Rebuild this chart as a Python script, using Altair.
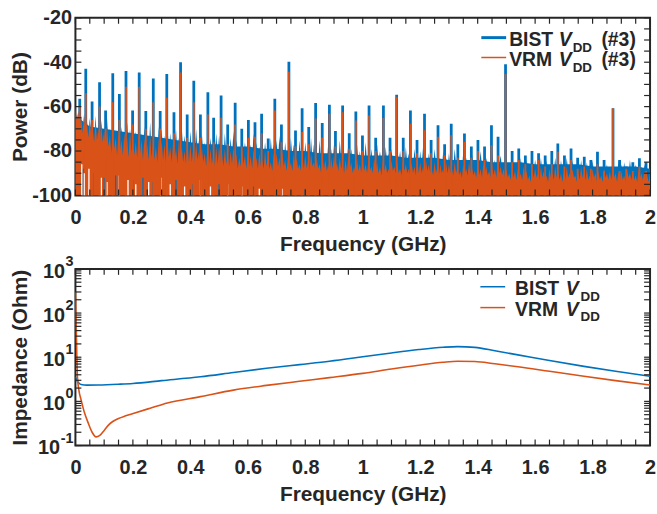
import altair as alt
import pandas as pd

FONT = "Liberation Sans"
INK = "#262626"
BLUE = "#0072BD"
ORANGE = "#D95319"
W, H = 579, 179
H2 = 178

# ---------------- data: spectrum (top panel) ----------------
noise_step = 0.005  # GHz between consecutive noise samples
bist_noise = [
    -60, -68, -62, -72, -64, -74, -63, -73, -66, -76, -65, -75, -67, -77, -64, -76, -68, -78, -66, -77,
    -69, -78, -65, -77, -70, -79, -67, -78, -71, -80, -66, -77, -69, -79, -72, -80, -67, -78, -70, -79,
    -68, -79, -71, -80, -66, -78, -72, -81, -69, -79, -73, -81, -67, -80, -71, -79, -74, -82, -69, -80,
    -70, -80, -73, -81, -68, -79, -72, -82, -75, -80, -70, -81, -74, -82, -69, -80, -73, -81, -76, -82,
    -71, -81, -74, -82, -70, -80, -75, -83, -72, -81, -76, -82, -71, -81, -74, -83, -77, -82, -72, -81,
    -73, -82, -76, -83, -72, -81, -77, -84, -74, -82, -71, -83, -75, -82, -78, -84, -73, -82, -76, -83,
    -74, -83, -77, -84, -72, -82, -76, -85, -78, -83, -73, -84, -76, -83, -79, -85, -74, -83, -77, -84,
    -75, -84, -73, -83, -78, -85, -76, -84, -79, -85, -74, -83, -77, -84, -80, -86, -75, -84, -78, -85,
    -76, -84, -79, -85, -74, -84, -77, -86, -80, -85, -75, -84, -78, -85, -81, -86, -76, -85, -79, -86,
    -77, -85, -80, -86, -75, -84, -78, -86, -81, -85, -76, -85, -79, -86, -82, -87, -77, -85, -80, -86,
    -78, -86, -76, -85, -81, -87, -79, -86, -82, -87, -77, -85, -80, -86, -83, -87, -78, -86, -81, -87,
    -79, -86, -82, -87, -77, -85, -80, -87, -83, -88, -78, -86, -81, -87, -84, -88, -79, -86, -82, -87,
    -80, -87, -78, -86, -83, -88, -81, -87, -84, -88, -79, -86, -82, -88, -85, -89, -80, -87, -83, -88,
    -81, -87, -84, -88, -79, -86, -82, -88, -85, -89, -80, -87, -83, -88, -86, -89, -81, -87, -84, -88,
    -82, -88, -80, -87, -84, -89, -83, -88, -86, -89, -81, -87, -84, -89, -78, -86, -82, -88, -85, -89,
    -83, -89, -86, -90, -82, -88, -85, -90, -87, -90, -83, -89, -86, -90, -84, -89, -87, -91, -83, -89,
    -84, -89, -87, -90, -83, -89, -86, -91, -84, -90, -88, -91, -85, -89, -83, -90, -87, -91, -84, -90,
    -85, -90, -83, -89, -87, -91, -84, -90, -86, -91, -88, -91, -84, -90, -87, -91, -85, -90, -86, -91,
    -84, -90, -87, -91, -85, -90, -88, -91, -84, -89, -86, -91, -87, -90, -85, -91, -88, -92, -84, -90,
    -86, -91, -85, -90, -87, -91, -84, -90, -88, -92, -86, -91, -85, -90, -87, -91, -86, -90, -88, -91,
    -87,
]
# top of the dense (solid looking) part of the BIST trace, every 0.05 GHz
band_step = 0.05
bist_band = [
    -64, -69, -70, -71, -72, -73, -74, -75, -76, -77,
    -77, -78, -78, -79, -79, -80, -80, -81, -81, -81,
    -82, -82, -82, -83, -83, -83, -84, -84, -84, -85,
    -85, -85, -86, -86, -86, -86, -87, -87, -87, -87,
    -88,
]
vrm_noise = [
    -60, -66, -62, -70, -65, -72, -64, -71, -67, -74, -66, -73, -69, -76, -67, -75, -70, -77, -68, -76,
    -71, -79, -69, -78, -73, -81, -70, -79, -74, -82, -71, -80, -75, -82, -72, -80, -74, -83, -71, -81,
    -73, -82, -76, -83, -72, -81, -75, -84, -74, -82, -77, -84, -73, -83, -76, -84, -78, -85, -74, -83,
    -75, -84, -77, -85, -74, -83, -78, -85, -76, -84, -79, -86, -75, -84, -78, -85, -80, -86, -76, -85,
    -77, -85, -79, -86, -76, -84, -80, -86, -78, -85, -81, -87, -77, -86, -79, -86, -82, -87, -78, -86,
    -78, -86, -81, -87, -79, -86, -82, -87, -80, -86, -78, -87, -81, -88, -83, -87, -79, -86, -82, -88,
    -80, -87, -82, -88, -79, -86, -83, -88, -81, -87, -84, -88, -80, -87, -82, -88, -85, -89, -81, -87,
    -81, -87, -83, -88, -80, -87, -84, -89, -82, -88, -85, -89, -81, -87, -83, -88, -86, -89, -82, -88,
    -82, -88, -84, -89, -81, -87, -85, -89, -83, -88, -86, -90, -82, -88, -84, -89, -86, -90, -83, -88,
    -82, -88, -85, -89, -83, -88, -86, -90, -84, -89, -82, -88, -85, -90, -87, -90, -83, -89, -86, -90,
    -83, -89, -86, -90, -84, -89, -87, -90, -83, -89, -85, -90, -87, -91, -84, -89, -86, -90, -88, -91,
    -84, -89, -87, -90, -85, -90, -88, -91, -84, -89, -86, -90, -88, -91, -85, -90, -87, -91, -84, -90,
    -85, -90, -87, -91, -84, -89, -86, -90, -88, -91, -85, -90, -87, -91, -86, -90, -88, -92, -85, -90,
    -86, -90, -88, -91, -85, -90, -87, -91, -89, -92, -86, -90, -88, -91, -85, -90, -87, -91, -89, -92,
    -86, -91, -88, -92, -85, -90, -87, -91, -89, -92, -86, -91, -88, -92, -84, -90, -87, -91, -88, -92,
    -88, -92, -90, -93, -87, -92, -89, -93, -88, -92, -90, -93, -87, -92, -89, -93, -91, -94, -88, -92,
    -88, -92, -90, -93, -87, -92, -89, -93, -91, -94, -88, -92, -90, -93, -87, -92, -89, -93, -90, -94,
    -89, -93, -87, -92, -90, -93, -88, -92, -91, -94, -89, -93, -87, -92, -90, -93, -88, -93, -91, -94,
    -88, -92, -90, -94, -89, -93, -91, -94, -88, -92, -90, -93, -89, -93, -87, -92, -90, -94, -89, -93,
    -89, -93, -91, -94, -88, -92, -90, -93, -89, -93, -91, -94, -88, -92, -90, -93, -89, -93, -91, -94,
    -90,
]
# deep dips of the traces near the bottom of the panel
gap_freq = [0.022, 0.031, 0.047, 0.090, 0.110, 0.152, 0.183, 0.210, 0.255, 0.297,
            0.330, 0.380, 0.435, 0.470, 0.530, 0.580, 0.640, 0.720]
gap_top = [-86, -90, -88, -92, -94, -91, -93, -95, -94, -92,
           -95, -96, -93, -96, -95, -96, -97, -97]
vrm_dip_freq = [0.027, 0.060, 0.100, 0.140, 0.200, 0.235, 0.270, 0.350, 0.410, 0.500,
                0.620, 0.800, 1.000]
vrm_dip_top = [-88, -90, -92, -91, -93, -92, -94, -93, -95, -95, -96, -97, -97]

spike_freq = [
    0.015, 0.036, 0.058, 0.084, 0.105, 0.130, 0.153, 0.176, 0.199, 0.222,
    0.245, 0.271, 0.295, 0.318, 0.343, 0.366, 0.389, 0.412, 0.435, 0.461,
    0.481, 0.507, 0.530, 0.556, 0.579, 0.602, 0.625, 0.648, 0.671, 0.694,
    0.717, 0.743, 0.766, 0.789, 0.812, 0.836, 0.859, 0.884, 0.905, 0.930,
    0.953, 0.976, 0.999, 1.022, 1.045, 1.072, 1.095, 1.118, 1.141, 1.166,
    1.189, 1.215, 1.238, 1.262, 1.285, 1.308, 1.331, 1.354, 1.378, 1.401,
    1.424, 1.448, 1.471, 1.497, 1.520, 1.543, 1.566, 1.589, 1.612, 1.635,
    1.658, 1.679, 1.702, 1.725, 1.748, 1.771, 1.794, 1.817, 1.840, 1.871,
    1.894, 1.917, 1.940, 1.963, 1.986,
]
spike_bist = [
    -56.5, -43.0, -57.7, -49.0, -61.7, -45.0, -54.3, -44.0, -61.7, -44.6,
    -62.0, -47.3, -62.0, -45.3, -62.5, -40.0, -63.5, -48.3, -63.5, -53.5,
    -65.0, -55.0, -68.0, -58.3, -70.0, -66.0, -67.0, -63.2, -74.4, -56.5,
    -68.1, -39.8, -70.7, -60.7, -69.2, -58.4, -67.4, -59.2, -71.0, -59.5,
    -72.0, -62.2, -73.0, -59.5, -74.0, -59.5, -74.0, -54.7, -74.0, -61.7,
    -75.0, -63.2, -75.0, -68.4, -77.0, -67.7, -77.0, -72.1, -78.0, -75.0,
    -78.0, -68.4, -73.6, -40.9, -80.0, -78.9, -82.0, -80.0, -81.0, -82.0,
    -80.0, -76.6, -82.0, -78.9, -83.0, -82.6, -84.0, -80.3, -84.0, -60.7,
    -84.0, -87.0, -85.0, -83.3, -85.0,
]
spike_vrm = [
    -60.0, -54.0, -66.0, -60.0, -70.0, -58.0, -66.0, -51.0, -68.0, -51.0,
    -70.0, -58.0, -70.0, -56.0, -72.0, -44.6, -74.0, -58.0, -74.0, -63.5,
    -76.0, -65.0, -77.0, -68.0, -78.0, -74.0, -73.6, -72.0, -80.0, -61.7,
    -76.0, -44.3, -78.0, -71.4, -77.0, -65.4, -74.0, -63.2, -78.0, -62.5,
    -79.0, -66.2, -80.0, -64.0, -80.0, -65.1, -80.0, -55.5, -80.0, -67.7,
    -81.0, -70.6, -81.0, -73.6, -82.0, -72.9, -83.0, -75.9, -83.0, -80.0,
    -84.0, -77.4, -82.0, -45.3, -85.0, -84.0, -86.0, -86.0, -84.0, -87.0,
    -86.0, -80.3, -87.0, -84.0, -88.0, -87.0, -88.0, -86.0, -89.0, -60.7,
    -89.0, -88.0, -89.0, -87.0, -89.0,
]

# ---------------- data: impedance (bottom panel) ----------------
imp_bist_f = [0.0, 0.005, 0.012, 0.02, 0.04, 0.08, 0.15, 0.2, 0.3, 0.435, 0.55,
              0.665, 0.78, 0.884, 1.0, 1.1, 1.195, 1.28, 1.33, 1.39, 1.46, 1.54,
              1.65, 1.77, 1.88, 2.0]
imp_bist_z = [3.6, 3.0, 2.6, 2.4, 2.33, 2.35, 2.45, 2.55, 2.95, 3.6, 4.5,
              5.6, 6.8, 8.1, 10.2, 12.5, 14.9, 16.8, 17.4, 16.7, 14.0, 11.3,
              8.4, 6.2, 4.8, 3.7]
imp_vrm_f = [0.0, 0.003, 0.007, 0.012, 0.02, 0.03, 0.044, 0.058, 0.072, 0.085,
             0.1, 0.115, 0.13, 0.15, 0.175, 0.204, 0.26, 0.32, 0.435, 0.55, 0.665,
             0.78, 0.884, 1.0, 1.1, 1.195, 1.28, 1.33, 1.39, 1.46, 1.54, 1.65,
             1.77, 1.88, 2.0]
imp_vrm_z = [300, 40, 3.6, 1.8, 1.07, 0.6, 0.33, 0.2, 0.157, 0.17,
             0.22, 0.29, 0.35, 0.41, 0.47, 0.54, 0.70, 0.92, 1.28, 1.8, 2.3,
             2.85, 3.45, 4.3, 5.4, 6.6, 7.7, 8.1, 8.0, 7.1, 6.1, 4.8,
             3.7, 2.95, 2.35]

# ---------------- tick values ----------------
freq_labels = [0, 0.2, 0.4, 0.6, 0.8, 1, 1.2, 1.4, 1.6, 1.8, 2]
freq_minor = [round(i * 0.05, 2) for i in range(41)]
power_labels = [-100, -80, -60, -40, -20]
power_minor = list(range(-100, -19, 5))
imp_decades = [0.1, 1, 10, 100, 1000]
imp_exps = ["-1", "0", "1", "2", "3"]
imp_minor = [m * 10.0 ** e for e in range(-1, 3) for m in range(1, 10)] + [1000]

# ---------------- frames ----------------
def series(vals, step):
    d = pd.DataFrame({"f": [round(i * step, 3) for i in range(len(vals))], "y": vals})
    d["base"] = -100
    return d


blue_df = series(bist_noise, noise_step)
band_df = series(bist_band, band_step)
orange_df = series(vrm_noise, noise_step)
spk = pd.DataFrame(list(zip(spike_freq, spike_bist, spike_vrm)), columns=["f", "b", "v"])
spk["base"] = -100
gaps = pd.DataFrame({"f": gap_freq, "y": gap_top})
gaps["base"] = -100
dips = pd.DataFrame({"f": vrm_dip_freq, "y": vrm_dip_top})
dips["base"] = -100

xscale = alt.Scale(domain=[0, 2], nice=False, zero=False)
pscale = alt.Scale(domain=[-100, -20], nice=False, zero=False)
zscale = alt.Scale(type="log", domain=[0.1, 1000], nice=False)

LBL = 20
TTL = 21
lab = dict(labelFont=FONT, labelFontSize=LBL, labelFontWeight="bold", labelColor=INK,
           titleFont=FONT, titleFontSize=TTL, titleFontWeight="bold", titleColor=INK,
           ticks=False, tickSize=0, domain=False, grid=False, labelOverlap=False,
           labelFlush=False)

xaxis = alt.Axis(values=freq_labels, labelExpr="'' + datum.value", labelPadding=12,
                 title="Frequency (GHz)", titleX=W / 2, titleY=49,
                 titleAlign="center", titleBaseline="middle", **lab)
paxis = alt.Axis(values=power_labels, labelExpr="'' + datum.value", labelPadding=4,
                 title="Power (dB)", titleAngle=270, titleX=-55, titleY=H / 2,
                 titleAlign="center", titleBaseline="middle", **lab)
zaxis = alt.Axis(values=imp_decades, labels=False,
                 title="Impedance (Ohm)", titleAngle=270, titleX=-55, titleY=H2 / 2,
                 titleAlign="center", titleBaseline="middle", **lab)

X = lambda f="f": alt.X(f"{f}:Q", scale=xscale, axis=xaxis)
PY = lambda f="y": alt.Y(f"{f}:Q", scale=pscale, axis=paxis)
ZY = lambda f="z": alt.Y(f"{f}:Q", scale=zscale, axis=zaxis)

one = pd.DataFrame({"k": [0]})


def txt(x, y, s, size=19.5, style="normal"):
    return alt.Chart(one).mark_text(
        font=FONT, fontSize=size, fontStyle=style, fontWeight="bold", color=INK,
        align="left", baseline="alphabetic"
    ).encode(x=alt.value(x), y=alt.value(y), text=alt.value(s))


def legline(x1, x2, y, color, width):
    return alt.Chart(one).mark_rule(color=color, strokeWidth=width).encode(
        x=alt.value(x1), x2=alt.value(x2), y=alt.value(y))


def legend_row(x0, xv, xs, xp, base, name, color, width, suffix, lx1, lx2, ly):
    parts = [legline(lx1, lx2, ly, color, width),
             txt(x0, base, name),
             txt(xv, base, "V", style="italic"),
             txt(xs, base + 6, "DD", size=13.5)]
    if suffix:
        parts.append(txt(xp, base, suffix))
    return parts


def ticks_y(values, yenc):
    d = pd.DataFrame({"v": values})
    left = alt.Chart(d).mark_rule(color=INK, strokeWidth=1.2).encode(
        y=yenc("v"), x=alt.value(0), x2=alt.value(6))
    right = alt.Chart(d).mark_rule(color=INK, strokeWidth=1.2).encode(
        y=yenc("v"), x=alt.value(W - 6), x2=alt.value(W))
    return [left, right]


def ticks_x(h):
    d = pd.DataFrame({"v": freq_minor})
    top = alt.Chart(d).mark_rule(color=INK, strokeWidth=1.2).encode(
        x=X("v"), y=alt.value(0), y2=alt.value(6))
    bot = alt.Chart(d).mark_rule(color=INK, strokeWidth=1.2).encode(
        x=X("v"), y=alt.value(h - 6), y2=alt.value(h))
    return [top, bot]


# ---------------- top panel ----------------
band_area = alt.Chart(band_df).mark_area(color=BLUE, opacity=1, clip=True).encode(
    x=X(), y=PY(), y2="base:Q")
blue_area = alt.Chart(blue_df).mark_area(color=BLUE, opacity=1, clip=True).encode(
    x=X(), y=PY(), y2="base:Q")
blue_spk = alt.Chart(spk).mark_rule(color=BLUE, strokeWidth=2.8, clip=True).encode(
    x=X(), y=PY("b"), y2="base:Q")
orange_area = alt.Chart(orange_df).mark_area(color=ORANGE, opacity=1, clip=True).encode(
    x=X(), y=PY(), y2="base:Q")
orange_dips = alt.Chart(dips).mark_rule(color=BLUE, strokeWidth=1.3, clip=True).encode(
    x=X(), y=PY(), y2="base:Q")
both_gaps = alt.Chart(gaps).mark_rule(color="white", strokeWidth=1.3, clip=True).encode(
    x=X(), y=PY(), y2="base:Q")
orange_spk = alt.Chart(spk).mark_rule(color=ORANGE, strokeWidth=1.8, clip=True).encode(
    x=X(), y=PY("v"), y2="base:Q")

top_layers = [band_area, blue_area, blue_spk, orange_area, orange_dips, both_gaps, orange_spk]
top_layers += ticks_y(power_minor, PY) + ticks_x(H)
top_layers += legend_row(437, 487, 501, 530, 28, "BIST", BLUE, 3, "(#3)", 409, 434, 20)
top_layers += legend_row(437, 487, 501, 530, 49, "VRM", ORANGE, 1.5, "(#3)", 409, 434, 40)
top = alt.layer(*top_layers).properties(width=W, height=H)

# ---------------- bottom panel ----------------
zb = pd.DataFrame({"f": imp_bist_f, "z": imp_bist_z})
zv = pd.DataFrame({"f": imp_vrm_f, "z": imp_vrm_z})
bist_line = alt.Chart(zb).mark_line(color=BLUE, strokeWidth=1.6, interpolate="monotone",
                                    clip=True).encode(x=X(), y=ZY())
vrm_line = alt.Chart(zv).mark_line(color=ORANGE, strokeWidth=1.6, interpolate="monotone",
                                   clip=True).encode(x=X(), y=ZY())

bot_layers = [bist_line, vrm_line]
bot_layers += ticks_y(imp_minor, ZY) + ticks_x(H2)

# y tick labels 10^n
EXP = 14.5
char_w = {"-": 0.333, "0": 0.556, "1": 0.556, "2": 0.556, "3": 0.556}
for v, e in zip(imp_decades, imp_exps):
    ew = sum(char_w[c] for c in e) * EXP
    d = pd.DataFrame({"z": [v]})
    bot_layers.append(alt.Chart(d).mark_text(
        font=FONT, fontSize=EXP, fontWeight="bold", color=INK, align="right",
        baseline="middle", dy=-7).encode(y=ZY(), x=alt.value(-2), text=alt.value(e)))
    bot_layers.append(alt.Chart(d).mark_text(
        font=FONT, fontSize=LBL, fontWeight="bold", color=INK, align="right",
        baseline="middle", dy=3).encode(y=ZY(), x=alt.value(-2 - ew - 0.5),
                                        text=alt.value("10")))

bot_layers += legend_row(443, 494, 509, 0, 26, "BIST", BLUE, 1.5, "", 408, 433, 18)
bot_layers += legend_row(443, 494, 509, 0, 47, "VRM", ORANGE, 1.5, "", 408, 433, 39)
bottom = alt.layer(*bot_layers).properties(width=W, height=H2)

chart = alt.vconcat(top, bottom, spacing=74, bounds="flush").properties(
    padding={"left": 9, "top": 5, "right": 0, "bottom": 0},
    background="white",
).configure_view(stroke=INK, strokeWidth=2)

chart.save("out.html", embed_options={"renderer": "svg", "actions": False})
